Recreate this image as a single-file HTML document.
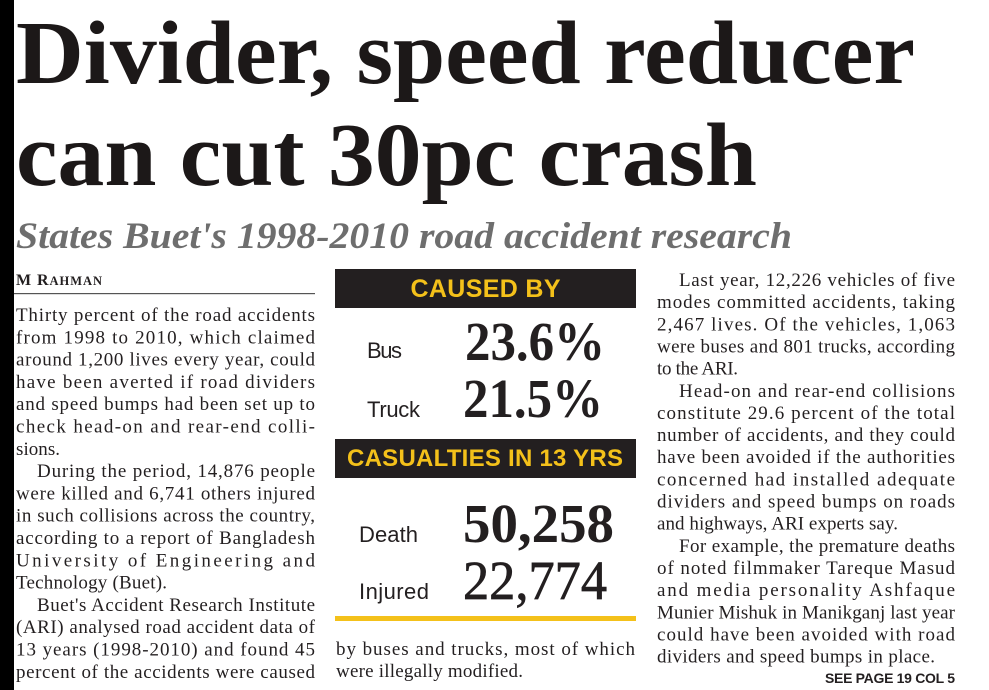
<!DOCTYPE html>
<html>
<head>
<meta charset="utf-8">
<style>
html,body{margin:0;padding:0;background:#fff;width:989px;height:690px;overflow:hidden}
svg{display:block}
.b{font-family:"Liberation Serif",serif;font-size:19px;fill:#231f20}
.s{font-family:"Liberation Sans",sans-serif}
.n{font-family:"Liberation Serif",serif;font-size:55px;fill:#231f20}
</style>
</head>
<body>
<svg width="989" height="690" viewBox="0 0 989 690" xmlns="http://www.w3.org/2000/svg">
<rect x="0" y="0" width="989" height="690" fill="#ffffff"/>
<rect x="0" y="0" width="14" height="690" fill="#000000"/>

<!-- Headline -->
<text x="16" y="83" font-family="Liberation Serif, serif" font-weight="bold" font-size="90" fill="#1c1818" textLength="899" lengthAdjust="spacingAndGlyphs">Divider, speed reducer</text>
<text x="16" y="185" font-family="Liberation Serif, serif" font-weight="bold" font-size="90" fill="#1c1818" textLength="741" lengthAdjust="spacingAndGlyphs">can cut 30pc crash</text>
<text x="16" y="248" font-family="Liberation Serif, serif" font-weight="bold" font-style="italic" font-size="37" fill="#6e6e6e" textLength="776" lengthAdjust="spacingAndGlyphs">States Buet's 1998-2010 road accident research</text>

<!-- Byline -->
<text x="16" y="285" font-family="Liberation Serif, serif" font-weight="bold" font-size="16" fill="#231f20" textLength="86" lengthAdjust="spacing">M R<tspan font-size="12.5">AHMAN</tspan></text>
<rect x="14" y="293" width="301" height="1.2" fill="#555"/>

<!-- Left column -->
<text class="b" x="16" y="321" textLength="299" lengthAdjust="spacing">Thirty percent of the road accidents</text>
<text class="b" x="16" y="343.3" textLength="299" lengthAdjust="spacing">from 1998 to 2010, which claimed</text>
<text class="b" x="16" y="365.6" textLength="299" lengthAdjust="spacing">around 1,200 lives every year, could</text>
<text class="b" x="16" y="387.9" textLength="299" lengthAdjust="spacing">have been averted if road dividers</text>
<text class="b" x="16" y="410.2" textLength="299" lengthAdjust="spacing">and speed bumps had been set up to</text>
<text class="b" x="16" y="432.5" textLength="299" lengthAdjust="spacing">check head-on and rear-end colli-</text>
<text class="b" x="16" y="454.8" textLength="44" lengthAdjust="spacing">sions.</text>
<text class="b" x="37" y="477.1" textLength="278" lengthAdjust="spacing">During the period, 14,876 people</text>
<text class="b" x="16" y="499.4" textLength="299" lengthAdjust="spacing">were killed and 6,741 others injured</text>
<text class="b" x="16" y="521.7" textLength="299" lengthAdjust="spacing">in such collisions across the country,</text>
<text class="b" x="16" y="544" textLength="299" lengthAdjust="spacing">according to a report of Bangladesh</text>
<text class="b" x="16" y="566.3" textLength="299" lengthAdjust="spacing">University of Engineering and</text>
<text class="b" x="16" y="588.6" textLength="151" lengthAdjust="spacing">Technology (Buet).</text>
<text class="b" x="37" y="610.9" textLength="278" lengthAdjust="spacing">Buet's Accident Research Institute</text>
<text class="b" x="16" y="633.2" textLength="299" lengthAdjust="spacing">(ARI) analysed road accident data of</text>
<text class="b" x="16" y="655.5" textLength="299" lengthAdjust="spacing">13 years (1998-2010) and found 45</text>
<text class="b" x="16" y="677.8" textLength="299" lengthAdjust="spacing">percent of the accidents were caused</text>

<!-- Middle box -->
<rect x="335" y="269" width="301" height="39" fill="#231f20"/>
<text class="s" x="485.5" y="297" text-anchor="middle" font-weight="bold" font-size="25" fill="#f4c11a" textLength="150" lengthAdjust="spacing">CAUSED BY</text>

<text class="s" x="367" y="358" font-size="22" fill="#231f20" textLength="35" lengthAdjust="spacing">Bus</text>
<text class="n" x="465" y="360" font-weight="bold" textLength="140" lengthAdjust="spacingAndGlyphs">23.6%</text>
<text class="s" x="367" y="417" font-size="22" fill="#231f20" textLength="53" lengthAdjust="spacing">Truck</text>
<text class="n" x="463" y="417" font-weight="bold" textLength="140" lengthAdjust="spacingAndGlyphs">21.5%</text>

<rect x="335" y="439" width="301" height="39" fill="#231f20"/>
<text class="s" x="485" y="466" text-anchor="middle" font-weight="bold" font-size="24" fill="#f4c11a" textLength="276" lengthAdjust="spacing">CASUALTIES IN 13 YRS</text>

<text class="s" x="359" y="542" font-size="22" fill="#231f20" textLength="59" lengthAdjust="spacing">Death</text>
<text class="n" x="463" y="542" font-weight="bold" textLength="151" lengthAdjust="spacingAndGlyphs">50,258</text>
<text class="s" x="359" y="599" font-size="22" fill="#231f20" textLength="70" lengthAdjust="spacing">Injured</text>
<text class="n" x="463" y="599" stroke="#231f20" stroke-width="0.7" textLength="144" lengthAdjust="spacingAndGlyphs">22,774</text>

<rect x="335" y="616" width="301" height="5" fill="#f4c11a"/>

<text class="b" x="336" y="655" textLength="299" lengthAdjust="spacing">by buses and trucks, most of which</text>
<text class="b" x="336" y="677" textLength="187" lengthAdjust="spacing">were illegally modified.</text>

<!-- Right column -->
<text class="b" x="679" y="286" textLength="276" lengthAdjust="spacing">Last year, 12,226 vehicles of five</text>
<text class="b" x="657" y="308.15" textLength="298" lengthAdjust="spacing">modes committed accidents, taking</text>
<text class="b" x="657" y="330.3" textLength="298" lengthAdjust="spacing">2,467 lives. Of the vehicles, 1,063</text>
<text class="b" x="657" y="352.45" textLength="298" lengthAdjust="spacing">were buses and 801 trucks, according</text>
<text class="b" x="657" y="374.6" textLength="81" lengthAdjust="spacing">to the ARI.</text>
<text class="b" x="679" y="396.75" textLength="276" lengthAdjust="spacing">Head-on and rear-end collisions</text>
<text class="b" x="657" y="418.9" textLength="298" lengthAdjust="spacing">constitute 29.6 percent of the total</text>
<text class="b" x="657" y="441.05" textLength="298" lengthAdjust="spacing">number of accidents, and they could</text>
<text class="b" x="657" y="463.2" textLength="298" lengthAdjust="spacing">have been avoided if the authorities</text>
<text class="b" x="657" y="485.35" textLength="298" lengthAdjust="spacing">concerned had installed adequate</text>
<text class="b" x="657" y="507.5" textLength="298" lengthAdjust="spacing">dividers and speed bumps on roads</text>
<text class="b" x="657" y="529.65" textLength="241" lengthAdjust="spacing">and highways, ARI experts say.</text>
<text class="b" x="679" y="551.8" textLength="276" lengthAdjust="spacing">For example, the premature deaths</text>
<text class="b" x="657" y="573.95" textLength="298" lengthAdjust="spacing">of noted filmmaker Tareque Masud</text>
<text class="b" x="657" y="596.1" textLength="298" lengthAdjust="spacing">and media personality Ashfaque</text>
<text class="b" x="657" y="618.25" textLength="298" lengthAdjust="spacing">Munier Mishuk in Manikganj last year</text>
<text class="b" x="657" y="640.4" textLength="298" lengthAdjust="spacing">could have been avoided with road</text>
<text class="b" x="657" y="662.55" textLength="278" lengthAdjust="spacing">dividers and speed bumps in place.</text>

<text class="s" x="955" y="683" text-anchor="end" font-weight="bold" font-size="14" fill="#231f20" textLength="130" lengthAdjust="spacing">SEE PAGE 19 COL 5</text>
</svg>
</body>
</html>
